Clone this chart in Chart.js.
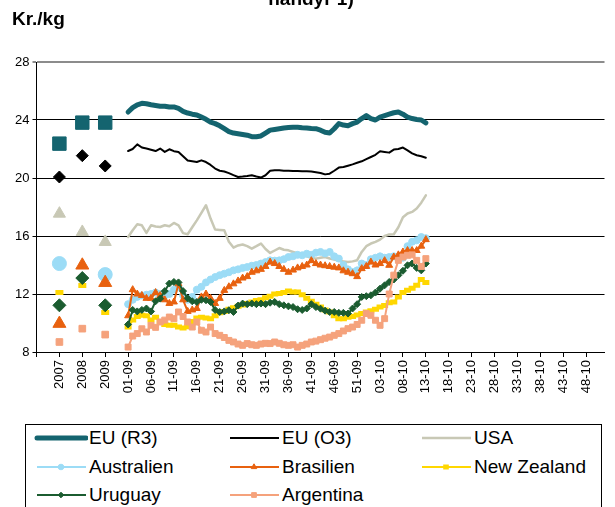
<!DOCTYPE html>
<html>
<head>
<meta charset="utf-8">
<script src="https://cdn.jsdelivr.net/npm/chart.js@4.4.0/dist/chart.umd.min.js"></script>
<style>
    body { margin: 0; background: #fff; font-family: "Liberation Sans", Arial, sans-serif; }
    #wrap { position: relative; width: 615px; height: 507px; overflow: hidden; }
    #topTitle { position: absolute; left: 0; width: 622px; top: -12px; text-align: center; font-weight: bold; font-size: 19px; }
    #unit { position: absolute; left: 12px; top: 8px; font-weight: bold; font-size: 19px; }
    #chart { position: absolute; left: 0; top: 0; }
    #legend { position: absolute; left: 25px; top: 424px; width: 575px; height: 100px; border: 1px solid #000; }
    .item { position: absolute; height: 28px; display: flex; align-items: center; font-size: 19px; white-space: nowrap; }
    .item span { margin-left: 1px; }
</style>
</head>
<body>
<div id="wrap">
    <canvas id="chart" width="615" height="420"></canvas>
    <div id="topTitle">handyr 1)</div>
    <div id="unit">Kr./kg</div>
    <div id="legend"></div>
</div>
<script>
// x tick labels, one for every 5th slot
var tickLabels = ["2007", "2008", "2009", "01-09", "06-09", "11-09", "16-09", "21-09", "26-09",
    "31-09", "36-09", "41-09", "46-09", "51-09", "03-10", "08-10", "13-10", "18-10", "23-10",
    "28-10", "33-10", "38-10", "43-10", "48-10"];

var seriesNames = ["EU (R3)", "EU (O3)", "USA", "Australien", "Brasilien", "New Zealand", "Uruguay", "Argentina"];

// yearly averages 2007, 2008, 2009
var euR3Years = [22.37, 23.82, 23.82];
var euO3Years = [20.07, 21.54, 20.83];
var usaYears = [17.54, 16.28, 15.59];
var ausYears = [14.1, null, 13.34];
var braYears = [9.96, 13.98, 12.78];
var nzYears = [12.1, 12.58, 10.72];
var uruYears = [11.22, 13.1, 11.22];
var argYears = [8.69, 9.61, 9.2];

// weekly prices from week 01-09
var euR3Weeks = [24.55, 24.85, 25.05, 25.15, 25.12, 25.05, 25.0, 24.95, 24.95, 24.9,
    24.9, 24.8, 24.6, 24.48, 24.4, 24.35, 24.2, 24.05, 23.85, 23.75,
    23.6, 23.4, 23.2, 23.1, 23.05, 23.0, 22.95, 22.85, 22.85, 22.9,
    23.1, 23.3, 23.35, 23.4, 23.45, 23.48, 23.5, 23.5, 23.47, 23.45,
    23.42, 23.4, 23.3, 23.15, 23.1, 23.4, 23.75, 23.65, 23.6, 23.75,
    23.86, 24.1, 24.3, 24.1, 24.0, 24.2, 24.3, 24.4, 24.5, 24.55,
    24.4, 24.2, 24.1, 24.03, 24.0, 23.8];
var euO3Weeks = [21.86, 22.0, 22.32, 22.1, 22.03, 21.95, 21.86, 22.03, 21.8, 21.98,
    21.85, 21.8, 21.5, 21.2, 21.15, 21.1, 21.22, 21.1, 20.9, 20.65,
    20.5, 20.45, 20.34, 20.2, 20.07, 20.1, 20.14, 20.19, 20.1, 20.03,
    20.19, 20.5, 20.53, 20.53, 20.5, 20.5, 20.48, 20.48, 20.47, 20.46,
    20.45, 20.4, 20.35, 20.25, 20.3, 20.5, 20.72, 20.76, 20.85, 20.94,
    21.05, 21.15, 21.3, 21.45, 21.6, 21.84, 21.8, 21.75, 21.96, 22.0,
    22.1, 21.91, 21.7, 21.57, 21.5, 21.4];
var usaWeeks = [15.93, 16.4, 16.81, 16.74, 16.21, 16.74, 16.65, 16.62, 16.74, 16.67,
    16.9, 16.74, 16.2, 16.12, 16.6, 17.08, 17.6, 18.12, 17.2, 16.44,
    16.42, 16.39, 15.6, 15.2, 15.35, 15.41, 15.3, 15.13, 15.3, 15.48,
    15.1, 14.83, 15.0, 15.17, 15.05, 15.01, 14.9, 14.79, 14.7, 14.6,
    14.5, 14.44, 14.5, 14.55, 14.45, 14.37, 14.3, 14.25, 14.2, 14.25,
    14.33, 14.9, 15.3, 15.48, 15.6, 15.75, 16.0, 16.1, 16.12, 16.6,
    17.3, 17.55, 17.66, 17.9, 18.3, 18.8];
var ausWeeks = [11.3, 11.6, 11.8, 11.9, 11.95, 12.0, 12.1, 12.0, 11.9, 12.0,
    12.3, 12.48, 11.9, 11.6, 11.8, 12.3, 12.5, 12.8, 13.0, 13.17,
    13.3, 13.4, 13.5, 13.63, 13.7, 13.8, 13.86, 13.95, 14.0, 14.1,
    14.2, 14.32, 14.3, 14.32, 14.4, 14.55, 14.6, 14.7, 14.67, 14.78,
    14.7, 14.85, 14.9, 14.8, 14.9, 14.6, 14.44, 14.0, 13.7, 13.52,
    13.63, 14.1, 14.0, 14.4, 14.5, 14.6, 14.5, 14.55, 14.6, 14.4,
    14.5, 15.3, 15.6, 15.7, 15.93, 15.85];
var braWeeks = [10.5, 12.3, 12.0, 11.9, 11.7, 11.7, 12.1, 11.9, 11.6, 11.35,
    11.45, 12.7, 11.6, 10.8, 10.9, 11.0, 11.8, 12.0, 11.7, 11.35,
    11.7, 12.25, 12.5, 12.7, 12.9, 13.1, 13.2, 13.5, 13.6, 13.7,
    13.9, 14.2, 14.1, 13.9, 13.7, 13.5, 13.65, 13.8, 13.9, 14.0,
    14.3, 14.1, 14.0, 13.95, 13.9, 13.85, 13.8, 13.6, 13.5, 13.4,
    13.2, 13.75, 13.9, 14.2, 14.0, 14.1, 14.3, 13.98, 14.55, 14.7,
    14.9, 15.0, 15.0, 15.0, 15.3, 15.75];
var nzWeeks = [9.72, 10.2, 10.45, 10.53, 10.5, 10.2, 10.4, 10.07, 9.9, 9.84,
    9.84, 9.72, 9.65, 9.75, 10.1, 10.35, 10.4, 10.35, 10.3, 10.5,
    10.7, 10.8, 10.95, 11.05, 11.15, 11.25, 11.35, 11.45, 11.55, 11.6,
    11.75, 11.85, 12.0, 12.03, 12.1, 12.2, 12.14, 12.14, 11.95, 11.7,
    11.5, 11.3, 11.1, 10.9, 10.76, 10.5, 10.3, 10.3, 10.4, 10.45,
    10.55, 10.65, 10.76, 10.85, 10.95, 11.1, 11.2, 11.4, 11.45, 11.8,
    12.1, 12.26, 12.4, 12.6, 13.0, 12.8];
var uruWeeks = [9.9, 10.9, 10.8, 10.9, 11.0, 10.8, 11.5, 11.68, 12.2, 12.72,
    12.83, 12.8, 12.2, 11.7, 11.5, 11.45, 11.6, 11.57, 11.45, 10.9,
    10.76, 10.8, 10.88, 10.76, 11.2, 11.34, 11.3, 11.34, 11.3, 11.34,
    11.3, 11.4, 11.45, 11.3, 11.22, 11.15, 11.1, 10.95, 10.9, 11.0,
    11.3, 11.1, 10.99, 10.85, 10.76, 10.76, 10.7, 10.7, 10.65, 11.0,
    11.3, 11.8, 11.85, 11.91, 12.1, 12.37, 12.6, 12.83, 13.0, 13.29,
    13.6, 13.98, 14.1, 13.8, 13.63, 14.1];
var argWeeks = [8.34, 9.1, 9.27, 9.6, 9.38, 9.84, 9.7, 10.07, 10.2, 10.41,
    10.3, 10.76, 10.45, 10.07, 9.72, 10.07, 9.5, 9.38, 9.72, 9.27,
    9.15, 9.0, 8.8, 8.69, 8.55, 8.46, 8.58, 8.5, 8.46, 8.55,
    8.6, 8.58, 8.69, 8.6, 8.5, 8.46, 8.5, 8.34, 8.46, 8.55,
    8.69, 8.75, 8.85, 8.95, 9.03, 9.15, 9.27, 9.45, 9.61, 9.72,
    9.9, 10.19, 10.65, 10.53, 10.19, 9.84, 10.3, 12.0, 13.3, 14.32,
    14.55, 14.67, 14.7, 14.32, 13.9, 14.44];

var yearly = [euR3Years, euO3Years, usaYears, ausYears, braYears, nzYears, uruYears, argYears];
var weekly = [euR3Weeks, euO3Weeks, usaWeeks, ausWeeks, braWeeks, nzWeeks, uruWeeks, argWeeks];

// look of each series
var styles = [
    { color: "#14646f", width: 5, point: "rect", yr: 9.5, wr: 0 },
    { color: "#000000", width: 2, point: "rectRot", yr: 6, wr: 0 },
    { color: "#c8c8b5", width: 2.5, point: "triangle", yr: 7, wr: 0 },
    { color: "#9cdcf6", width: 2, point: "circle", yr: 7, wr: 3.5 },
    { color: "#e8610f", width: 2, point: "triangle", yr: 7.5, wr: 4 },
    { color: "#ffd700", width: 2, point: "line", yr: 4, wr: 3.5, bw: 5 },
    { color: "#1b5c30", width: 2, point: "rectRot", yr: 6.5, wr: 3.5 },
    { color: "#f5a27c", width: 2, point: "rect", yr: 4.7, wr: 4.2 }
];

var FIRST_WEEK = 15; // slot of 01-09 on the x scale
var fontFam = '"Liberation Sans", Arial, sans-serif';

var datasets = seriesNames.map(function (name, s) {
    var st = styles[s];
    var pts = yearly[s].map(function (v, i) { return { x: i * 5, y: v }; })
        .concat(weekly[s].map(function (v, i) { return { x: FIRST_WEEK + i, y: v }; }));
    return {
        label: name,
        data: pts,
        order: -s,
        borderColor: st.color,
        backgroundColor: st.color,
        borderWidth: st.width,
        borderCapStyle: "round",
        borderJoinStyle: "round",
        pointStyle: st.point,
        pointRadius: function (c) { return c.raw && c.raw.x < FIRST_WEEK ? st.yr : st.wr; },
        pointBackgroundColor: st.color,
        pointBorderColor: st.color,
        pointBorderWidth: st.bw || 1,
        tension: 0,
        segment: {
            borderColor: function (c) { return c.p0.parsed.x < FIRST_WEEK ? "rgba(0,0,0,0)" : undefined; }
        }
    };
});

var ctx = document.getElementById("chart").getContext("2d");
var chart = new Chart(ctx, {
    type: "line",
    data: { datasets: datasets },
    options: {
        responsive: false,
        animation: false,
        devicePixelRatio: 1,
        layout: { padding: { left: 0, right: 0, top: 62, bottom: 0 } },
        plugins: { legend: { display: false }, tooltip: { enabled: false } },
        scales: {
            x: {
                type: "linear",
                min: -5,
                max: 119,
                afterFit: function (sc) { sc.height = 68; sc.paddingLeft = 0; sc.paddingRight = 0; },
                grid: { drawOnChartArea: false, drawTicks: true, tickLength: 5, color: "#000" },
                border: { display: true, color: "#000", width: 1 },
                ticks: {
                    stepSize: 5,
                    autoSkip: false,
                    includeBounds: false,
                    maxRotation: 90,
                    minRotation: 90,
                    padding: 3,
                    color: "#000",
                    font: { family: fontFam, size: 13 },
                    callback: function (v) {
                        return (v >= 0 && v % 5 === 0) ? (tickLabels[v / 5] || "") : "";
                    }
                }
            },
            y: {
                min: 8,
                max: 28,
                afterFit: function (sc) { sc.width = 36.5; },
                grid: {
                    color: function (c) { return c.tick && c.tick.value === 28 ? "#8c8c8c" : "#000"; },
                    lineWidth: function (c) { return c.tick && c.tick.value === 28 ? 2 : 1; },
                    tickLength: 4
                },
                border: { color: "#000", width: 1 },
                ticks: { stepSize: 4, padding: 3, color: "#000", font: { family: fontFam, size: 13 } }
            }
        }
    }
});

// legend box, three columns
var legendEl = document.getElementById("legend");
var colLeft = [8, 201, 393];
seriesNames.forEach(function (name, s) {
    var st = styles[s];
    var item = document.createElement("div");
    item.className = "item";
    item.style.left = colLeft[s % 3] + "px";
    item.style.top = (Math.floor(s / 3) * 28.5 - 1) + "px";

    var cv = document.createElement("canvas");
    cv.width = 54;
    cv.height = 28;
    var g = cv.getContext("2d");
    g.strokeStyle = st.color;
    g.fillStyle = st.color;
    g.lineWidth = st.width;
    g.lineCap = st.width > 3 ? "round" : "butt";
    g.beginPath();
    g.moveTo(3, 14);
    g.lineTo(52, 14);
    g.stroke();
    if (st.wr > 0) {
        g.lineWidth = st.bw || 1;
        Chart.helpers.drawPoint(g, { pointStyle: st.point, radius: st.wr * 0.8, rotation: 0, borderWidth: st.bw || 1 }, 27, 14);
    }
    item.appendChild(cv);

    var txt = document.createElement("span");
    txt.textContent = name;
    item.appendChild(txt);
    legendEl.appendChild(item);
});
</script>
</body>
</html>
